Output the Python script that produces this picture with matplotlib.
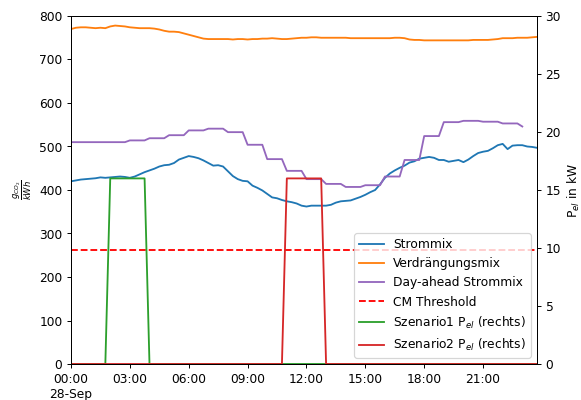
import datetime as dt
import matplotlib
matplotlib.use("Agg")
import matplotlib.pyplot as plt
import matplotlib.dates as mdates
import numpy as np

# 15-minute time steps for one day
start = dt.datetime(2023, 9, 28)
times = [start + dt.timedelta(minutes=15 * i) for i in range(96)]

# Strommix (g CO2 / kWh)
strommix = [420, 422, 424, 425, 426, 427, 429, 428, 429, 430, 431, 430,
            428, 431, 436, 441, 445, 449, 454, 457, 458, 462, 470, 474,
            478, 476, 473, 468, 462, 456, 457, 454, 443, 432, 425, 421,
            420, 410, 405, 399, 391, 383, 381, 377, 374, 372, 369, 364,
            362, 364, 364, 364, 364, 366, 371, 374, 375, 376, 380, 384,
            389, 395, 400, 413, 428, 438, 445, 451, 456, 463, 466, 472,
            474, 476, 474, 469, 469, 465, 467, 469, 464, 470, 478, 485,
            488, 490, 496, 503, 506, 494, 502, 503, 503, 500, 499, 497]

# Verdraengungsmix (g CO2 / kWh)
verdraengung = [770, 773, 774, 774, 773, 772, 773, 772, 776, 778, 777, 776,
                774, 773, 772, 772, 772, 771, 769, 766, 764, 764, 763, 760,
                757, 754, 751, 748, 747, 747, 747, 747, 747, 746, 747, 747,
                746, 747, 747, 748, 748, 749, 748, 747, 747, 748, 749, 750,
                750, 751, 751, 750, 750, 750, 750, 750, 750, 749, 749, 749,
                749, 749, 749, 749, 749, 749, 750, 750, 749, 746, 745, 745,
                744, 744, 744, 744, 744, 744, 744, 744, 744, 744, 745, 745,
                745, 745, 746, 747, 749, 749, 749, 750, 750, 750, 751, 752]

# Day-ahead Strommix, hourly values (00:00 ... 23:00)
day_ahead_hourly = [510, 510, 510, 514, 519, 526, 537, 541, 533, 504, 471, 444,
                    425, 414, 407, 411, 431, 469, 524, 556, 559, 557, 553, 546]
day_ahead = np.repeat(day_ahead_hourly, 4)[:93]

threshold = 263

# electrical power of the two scenarios in kW
szenario1 = [0] * 8 + [16] * 8 + [0] * 80
szenario2 = [0] * 44 + [16] * 8 + [0] * 44

fig, ax = plt.subplots(figsize=(581 / 88, 400 / 88), dpi=88)
fig.subplots_adjust(left=0.1222, right=0.9243, bottom=0.09, top=0.96)
ax2 = ax.twinx()

l1, = ax.plot(times, strommix, color="tab:blue", label="Strommix")
l2, = ax.plot(times, verdraengung, color="tab:orange", label="Verdrängungsmix")
l3, = ax.plot(times[:93], day_ahead, color="tab:purple", label="Day-ahead Strommix")
l4 = ax.axhline(threshold, color="red", linestyle="--", label="CM Threshold")
l5, = ax2.plot(times, szenario1, color="tab:green", label="Szenario1 P$_{el}$ (rechts)")
l6, = ax2.plot(times, szenario2, color="tab:red", label="Szenario2 P$_{el}$ (rechts)")

ax.set_ylim(0, 800)
ax2.set_ylim(0, 30)
ax.set_xlim(times[0], times[-1])

ax.xaxis.set_major_locator(mdates.HourLocator(interval=3))


def fmt(x, pos):
    d = mdates.num2date(x)
    s = d.strftime("%H:%M")
    if d.hour == 0:
        s += "\n" + d.strftime("%d-%b")
    return s


ax.xaxis.set_major_formatter(plt.FuncFormatter(fmt))

ax.set_ylabel(r"$\frac{g_{CO_2}}{kWh}$")
ax2.set_ylabel("P$_{el}$ in kW")

ax2.legend(handles=[l1, l2, l3, l4, l5, l6], loc="lower right")

fig.savefig("out.png")
